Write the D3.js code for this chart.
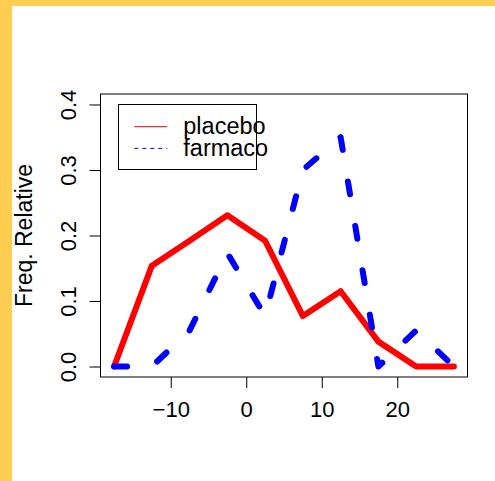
<!DOCTYPE html>
<html lang="en">
<head>
    <meta charset="UTF-8">
    <title>Freq. Relative</title>
    <script src="https://cdn.jsdelivr.net/npm/d3@7/dist/d3.min.js"></script>
    <style>
        body { margin: 0; background: #ffffff; }
        text { font-family: "Liberation Sans", Arial, Helvetica, sans-serif; fill: #000; }
    </style>
</head>
<body>
<svg id="main-svg" width="495" height="481" xmlns="http://www.w3.org/2000/svg"></svg>

<script>
    'use strict';
    /* dati: punti centrali delle classi e frequenze relative */
    const mids = [-17.5, -12.5, -7.5, -2.5, 2.5, 7.5, 12.5, 17.5, 22.5, 27.5];
    const placebo = [0, 0.154, 0.192, 0.231, 0.192, 0.077, 0.115, 0.038, 0, 0];
    const farmaco = [0, 0, 0.055, 0.173, 0.077, 0.3, 0.35, 0, 0.055, 0];
    const xTicks = [-10, 0, 10, 20];
    const yTicks = [0, 0.1, 0.2, 0.3, 0.4];
    const seriesNames = ['placebo', 'farmaco'];

    const svg = d3.select('#main-svg');

    /* cornice gialla (sinistra e sopra) */
    svg.append('rect').attr('x', 0).attr('y', 0).attr('width', 495).attr('height', 481).attr('fill', '#ffffff');
    svg.append('rect').attr('x', 0).attr('y', 0).attr('width', 495).attr('height', 6).attr('fill', '#FFCD50');
    svg.append('rect').attr('x', 0).attr('y', 0).attr('width', 12).attr('height', 481).attr('fill', '#FFCD50');

    /* area del grafico */
    const box = {left: 100.5, right: 467.5, top: 94, bottom: 377};

    // come in R: range dei dati allargato del 4% per lato
    const xr = d3.extent(mids), xpad = (xr[1] - xr[0]) * 0.04;
    const x = d3.scaleLinear().domain([xr[0] - xpad, xr[1] + xpad]).range([box.left, box.right]);
    const y = d3.scaleLinear().domain([0 - 0.016, 0.4 + 0.016]).range([box.bottom, box.top]);

    /* assi */
    const xAxis = svg.append('g')
        .attr('transform', `translate(0,${box.bottom})`)
        .call(d3.axisBottom(x).tickValues(xTicks).tickSize(11).tickSizeOuter(0).tickPadding(0));
    xAxis.select('.domain').remove();
    xAxis.selectAll('line').attr('stroke', '#000');
    xAxis.selectAll('text').attr('font-size', 22).attr('y', 40).attr('dy', 0)
        .attr('font-family', '"Liberation Sans", Arial, sans-serif');

    const yAxis = svg.append('g')
        .attr('transform', `translate(${box.left},0)`)
        .call(d3.axisLeft(y).tickValues(yTicks).tickFormat(d3.format('.1f')).tickSize(11).tickSizeOuter(0));
    yAxis.select('.domain').remove();
    yAxis.selectAll('line').attr('stroke', '#000');
    yAxis.selectAll('text')
        .attr('font-size', 22)
        .attr('font-family', '"Liberation Sans", Arial, sans-serif')
        .attr('x', null).attr('dy', null)
        .attr('text-anchor', 'middle')
        .attr('transform', 'translate(-25,0) rotate(-90)');

    /* titolo asse y */
    svg.append('text')
        .attr('transform', `translate(32,${(box.top + box.bottom) / 2}) rotate(-90)`)
        .attr('text-anchor', 'middle')
        .attr('font-size', 23)
        .text('Freq. Relative');

    /* linee */
    const line = d3.line()
        .x((d, i) => x(mids[i]))
        .y(d => y(d));

    svg.append('path')
        .datum(placebo)
        .attr('d', line)
        .attr('fill', 'none')
        .attr('stroke', '#ff0000')
        .attr('stroke-width', 6)
        .attr('stroke-linejoin', 'round')
        .attr('stroke-linecap', 'round');

    svg.append('path')
        .datum(farmaco)
        .attr('d', line)
        .attr('fill', 'none')
        .attr('stroke', '#0000ff')
        .attr('stroke-width', 6)
        .attr('stroke-dasharray', '13,32')
        .attr('stroke-linejoin', 'round')
        .attr('stroke-linecap', 'round');

    /* riquadro */
    svg.append('rect')
        .attr('x', box.left).attr('y', box.top)
        .attr('width', box.right - box.left).attr('height', box.bottom - box.top)
        .attr('fill', 'none').attr('stroke', '#000').attr('stroke-width', 1);

    /* legenda */
    const leg = svg.append('g');
    leg.append('rect')
        .attr('x', 118.5).attr('y', 104.5).attr('width', 138).attr('height', 65)
        .attr('fill', 'none').attr('stroke', '#000').attr('stroke-width', 1);
    const legColors = ['#ff0000', '#0000ff'];
    const legDash = [null, '4,4'];
    seriesNames.forEach((name, i) => {
        const ly = 126.7 + i * 21.7;
        leg.append('line')
            .attr('x1', 134.3).attr('x2', 167.3).attr('y1', ly).attr('y2', ly)
            .attr('stroke', legColors[i]).attr('stroke-width', 1)
            .attr('stroke-dasharray', legDash[i]);
        leg.append('text')
            .attr('x', 183.3).attr('y', ly + 7.5)
            .attr('font-size', 23.5)
            .text(name);
    });
</script>
</body>
</html>
